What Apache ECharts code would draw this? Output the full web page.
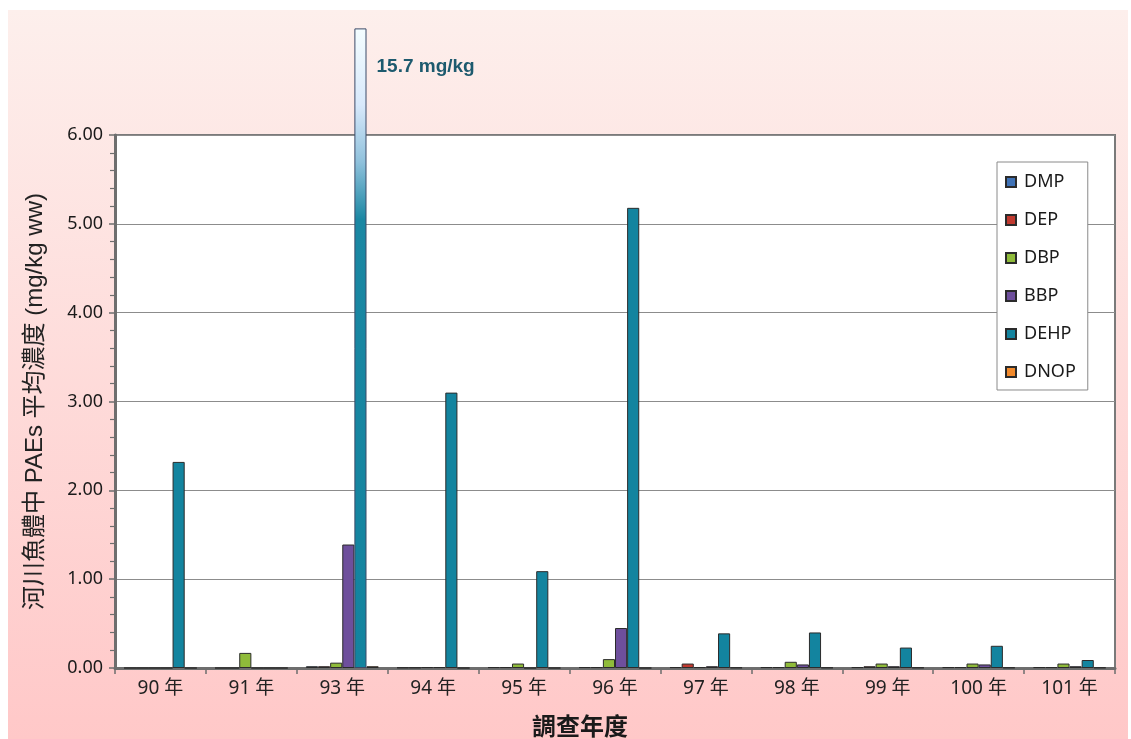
<!DOCTYPE html>
<html>
<head>
<meta charset="utf-8">
<script src="https://cdn.jsdelivr.net/npm/echarts@6/dist/echarts.min.js"></script>
<style>
  html, body { margin: 0; padding: 0; background: #ffffff; }
  #chart { width: 1131px; height: 739px; }
</style>
</head>
<body>
<div id="chart"></div>
<script>
// Survey years (ROC calendar)
const years = ['90 年', '91 年', '93 年', '94 年', '95 年', '96 年', '97 年', '98 年', '99 年', '100 年', '101 年'];

// Mean PAE concentrations in river fish, mg/kg wet weight
const DMP  = [0,    0,    0.02, 0.005, 0.01, 0.01, 0.01,  0.01,  0.01,  0.01,  0.01];
const DEP  = [0,    0,    0.02, 0.005, 0.01, 0.01, 0.05,  0.01,  0.02,  0.01,  0.01];
const DBP  = [0,    0.17, 0.06, 0.01,  0.05, 0.10, 0.01,  0.07,  0.05,  0.05,  0.05];
const BBP  = [0,    0,    1.39, 0.01,  0,    0.45, 0.02,  0.04,  0.02,  0.04,  0.02];
const DEHP = [2.32, 0,    15.7, 3.10,  1.09, 5.18, 0.39,  0.40,  0.23,  0.25,  0.09];
const DNOP = [0,    0,    0.02, 0,     0,    0,    0.005, 0.005, 0.005, 0.005, 0.005];

// Value axis ticks
const yTicks = [0, 1, 2, 3, 4, 5, 6];

// Values above the axis top are drawn as a broken bar that fades out above the frame
const Y_MAX = yTicks[yTicks.length - 1];
const BREAK_FADE_FROM = 5.05;
const BREAK_TOP = 7.2;

const chart = echarts.init(document.getElementById('chart'), null, { renderer: 'canvas' });

const cjk = "'Liberation Sans', 'Noto Sans CJK TC', sans-serif";
const latin = "'Noto Sans', 'Noto Sans CJK TC', sans-serif";

function brokenItem(v, color) {
  const fade = (BREAK_TOP - BREAK_FADE_FROM) / BREAK_TOP;
  return {
    value: BREAK_TOP,
    itemStyle: {
      color: new echarts.graphic.LinearGradient(0, 0, 0, 1, [
        { offset: 0, color: '#f4fdff' },
        { offset: fade * 0.4, color: '#d8e9fb' },
        { offset: fade * 0.7, color: '#8fc1dc' },
        { offset: fade, color: '#1a87a3' },
        { offset: 1, color: color }
      ]),
      borderColor: '#3b4a68',
      borderWidth: 1
    },
    label: {
      show: true,
      position: ['100%', 29],
      offset: [10, 0],
      formatter: v + ' mg/kg',
      fontFamily: "'Liberation Sans', sans-serif",
      fontWeight: 'bold',
      fontSize: 19,
      color: '#1d5a6e'
    }
  };
}

function barSeries(name, values, color) {
  return {
    name: name,
    type: 'bar',
    data: values.map(v => (v > Y_MAX ? brokenItem(v, color) : v)),
    itemStyle: { color: color, borderColor: '#2b2b2b', borderWidth: 1 },
    barGap: '0%',
    barCategoryGap: '20%',
    clip: false,
    emphasis: { disabled: true }
  };
}

const option = {
  backgroundColor: '#ffffff',
  animation: false,
  graphic: [{
    type: 'rect',
    z: -10,
    silent: true,
    shape: { x: 8, y: 10, width: 1120, height: 729 },
    style: {
      fill: new echarts.graphic.LinearGradient(0, 0, 0, 1, [
        { offset: 0, color: '#fdefec' },
        { offset: 1, color: '#ffc8c8' }
      ])
    }
  }],
  title: {
    text: '調查年度',
    left: 527,
    top: 711,
    textStyle: { fontFamily: cjk, fontSize: 24, fontWeight: 'bold', color: '#1a1a1a' }
  },
  legend: {
    orient: 'vertical',
    left: 997,
    top: 162,
    padding: [11, 12, 9, 8],
    itemGap: 20,
    itemWidth: 10,
    itemHeight: 10,
    icon: 'rect',
    backgroundColor: '#ffffff',
    borderColor: '#8a8a8a',
    borderWidth: 1,
    textStyle: { fontFamily: latin, fontSize: 18, color: '#1a1a1a', padding: [0, 0, 0, 3] },
    data: ['DMP', 'DEP', 'DBP', 'BBP', 'DEHP', 'DNOP']
  },
  grid: {
    left: 115,
    right: 16,
    top: 135,
    bottom: 71,
    show: true,
    backgroundColor: '#ffffff',
    borderColor: '#7a7a7a',
    borderWidth: 2
  },
  xAxis: {
    type: 'category',
    data: years,
    axisLine: { show: true, lineStyle: { color: '#6e6e6e', width: 3 } },
    axisTick: { show: true, length: 6, lineStyle: { color: '#6e6e6e', width: 1.5 } },
    axisLabel: { fontFamily: latin, fontSize: 19, color: '#222222', margin: 11 }
  },
  yAxis: {
    type: 'value',
    min: yTicks[0],
    max: Y_MAX,
    interval: yTicks[1] - yTicks[0],
    name: '河川魚體中 PAEs 平均濃度 (mg/kg ww)',
    nameLocation: 'middle',
    nameGap: 68,
    nameRotate: 90,
    nameTextStyle: { fontFamily: cjk, fontSize: 24, color: '#222222' },
    axisLine: { show: true, lineStyle: { color: '#6e6e6e', width: 3 } },
    axisTick: { show: true, length: 6, lineStyle: { color: '#6e6e6e', width: 1.5 } },
    minorTick: { show: true, splitNumber: 5, length: 5, lineStyle: { color: '#6e6e6e', width: 1.2 } },
    axisLabel: { fontFamily: latin, fontSize: 18, color: '#1a1a1a', margin: 12, formatter: v => v.toFixed(2) },
    splitLine: { show: true, lineStyle: { color: '#8c8c8c', width: 1 } }
  },
  series: [
    barSeries('DMP', DMP, '#3f72b6'),
    barSeries('DEP', DEP, '#c0392f'),
    barSeries('DBP', DBP, '#8fbb3a'),
    barSeries('BBP', BBP, '#6e4f9c'),
    barSeries('DEHP', DEHP, '#13849f'),
    barSeries('DNOP', DNOP, '#f28a2c')
  ]
};

chart.setOption(option);
</script>
</body>
</html>
